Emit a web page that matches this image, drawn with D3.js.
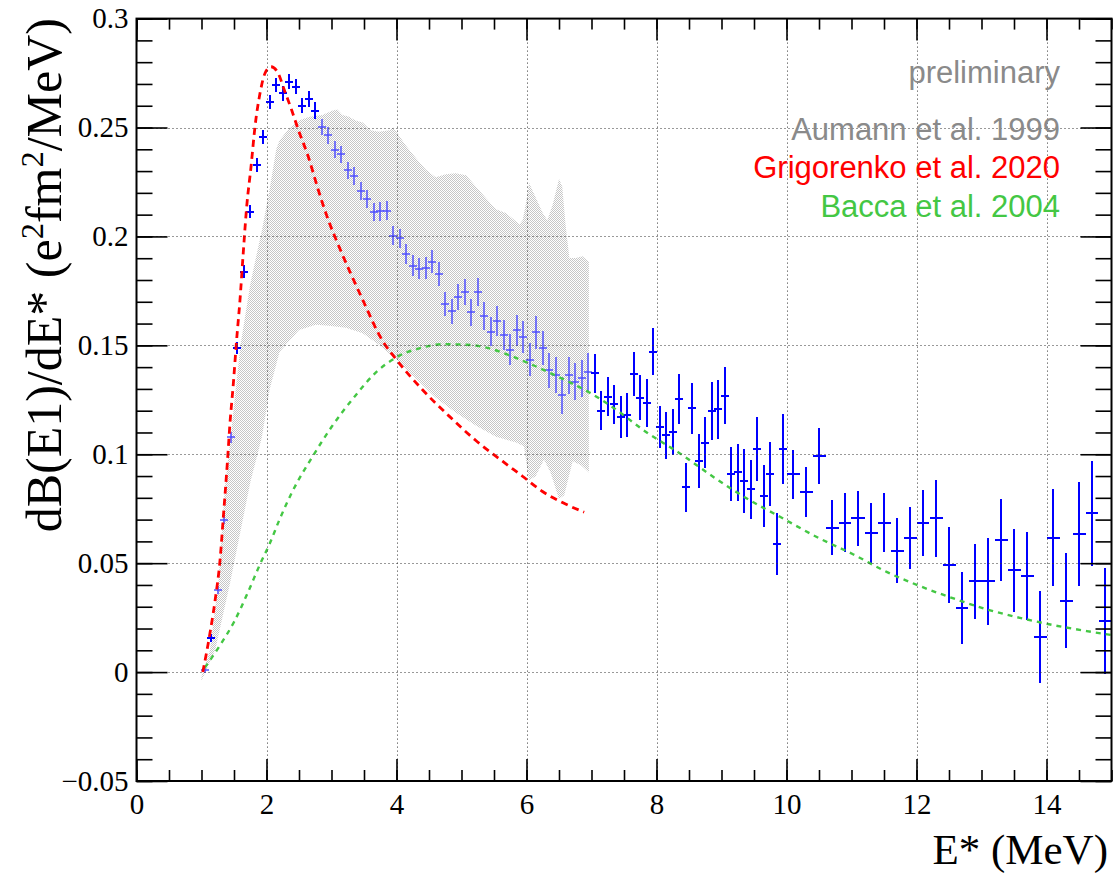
<!DOCTYPE html>
<html>
<head>
<meta charset="utf-8">
<script src="https://cdn.jsdelivr.net/npm/d3@7"></script>
<style>
  html, body { margin: 0; padding: 0; background: #fff; }
  svg { display: block; }
  .tick text { font-family: 'Liberation Serif', 'Times New Roman', serif; font-size: 29px; fill: #000; }
</style>
</head>
<body>
<svg id="chart" width="1116" height="876"></svg>
<script>
// ---- measured dB(E1)/dE* spectrum (bin centre, value, stat. error) ----
const expEnergy = [
  1.05,1.15,1.25,1.35,1.45,1.55,1.65,1.75,1.85,1.95,
  2.05,2.15,2.25,2.35,2.45,2.55,2.65,2.75,2.85,2.95,
  3.05,3.15,3.25,3.35,3.45,3.55,3.65,3.75,3.85,3.95,
  4.05,4.15,4.25,4.35,4.45,4.55,4.65,4.75,4.85,4.95,
  5.05,5.15,5.25,5.35,5.45,5.55,5.65,5.75,5.85,5.95,
  6.05,6.15,6.25,6.35,6.45,6.55,6.65,6.75,6.85,6.95,
  7.05,7.15,7.25,7.35,7.45,7.55,7.65,7.75,7.85,7.95,
  8.05,8.15,8.25,8.35,8.45,8.55,8.65,8.75,8.85,8.95,
  9.05,9.15,9.25,9.35,9.45,9.55,9.65,9.75,9.85,9.95,
  10.1,10.3,10.5,10.7,10.9,11.1,11.3,11.5,11.7,11.9,
  12.1,12.3,12.5,12.7,12.9,13.1,13.3,13.5,13.7,13.9,
  14.1,14.3,14.5,14.7,14.9
];
const expValue = [
  0.001,0.0156,0.0377,0.070,0.1077,0.1486,0.1837,0.2114,0.2328,0.2456,
  0.2617,0.2695,0.2657,0.2710,0.2687,0.2601,0.2631,0.2578,0.2503,0.2464,
  0.2398,0.2377,0.2303,0.2278,0.2210,0.2172,0.2112,0.2115,0.2119,0.2004,
  0.1991,0.1918,0.1866,0.1852,0.1856,0.1884,0.1828,0.1689,0.1656,0.1720,
  0.1743,0.1651,0.1744,0.1636,0.1563,0.1612,0.1548,0.1480,0.1569,0.1538,
  0.1433,0.1560,0.1486,0.1385,0.1364,0.1270,0.1362,0.1333,0.1348,0.1377,
  0.1371,0.1200,0.1264,0.1229,0.1171,0.1180,0.1367,0.1259,0.1235,0.1471,
  0.1126,0.1087,0.1102,0.1253,0.0848,0.1211,0.0970,0.1053,0.1200,0.1206,
  0.1269,0.0908,0.0917,0.0877,0.0839,0.1024,0.0808,0.0908,0.0588,0.1024,
  0.0908,0.0828,0.0992,0.0663,0.0686,0.0706,0.0637,0.0686,0.0557,0.0614,
  0.0686,0.0706,0.0490,0.0294,0.0416,0.0416,0.0606,0.0468,0.0441,0.0161,
  0.0617,0.0328,0.0632,0.0729,0.0236
];
const expError = [
  0.0015,0.0018,0.0020,0.0022,0.0025,0.0028,0.0030,0.0030,0.0031,0.0032,
  0.0033,0.0034,0.0034,0.0035,0.0035,0.0036,0.0037,0.0037,0.0037,0.0038,
  0.0038,0.0039,0.0040,0.0040,0.0041,0.0041,0.0042,0.0042,0.0043,0.0044,
  0.0045,0.0046,0.0048,0.0049,0.0050,0.0052,0.0054,0.0056,0.0058,0.0060,
  0.0060,0.0062,0.0063,0.0064,0.0066,0.0068,0.0070,0.0070,0.0072,0.0074,
  0.0076,0.0077,0.0078,0.0080,0.0082,0.0083,0.0084,0.0086,0.0087,0.0088,
  0.0088,0.0090,0.0090,0.0090,0.0096,0.0099,0.0101,0.0104,0.0109,0.0107,
  0.0097,0.0109,0.0107,0.0115,0.0114,0.0116,0.0125,0.0117,0.0134,0.0136,
  0.0132,0.0124,0.0132,0.0145,0.0136,0.0145,0.0142,0.0146,0.0142,0.0160,
  0.0112,0.0115,0.0128,0.0125,0.0134,0.0125,0.0138,0.0135,0.0149,0.0142,
  0.0151,0.0176,0.0174,0.0165,0.0174,0.0200,0.0187,0.0190,0.0200,0.0210,
  0.0222,0.0218,0.0239,0.0241,0.0243
];
// bins are 0.1 MeV wide up to 10 MeV and 0.2 MeV wide above
const binHalfWidthFine = 0.05;
const binHalfWidthCoarse = 0.1;
const coarseBinsFrom = 10.0;

// ---- Aumann et al. 1999: uncertainty band (upper and lower edge) ----
const aumannUpperE = [1.0,1.13,1.26,1.36,1.43,1.6,1.75,1.85,1.93,2.05,2.15,2.2,2.35,2.5,2.66,2.86,3.02,3.09,3.17,3.27,3.37,3.48,3.6,3.73,3.89,3.95,4.02,4.14,4.3,4.45,4.6,4.76,4.91,5.07,5.22,5.37,5.53,5.68,5.89,5.94,5.99,6.04,6.09,6.25,6.32,6.4,6.5,6.55,6.6,6.66,6.76,6.86,6.96];
const aumannUpper  = [-0.002,0.010,0.041,0.085,0.103,0.150,0.178,0.192,0.203,0.222,0.240,0.244,0.2497,0.2532,0.2549,0.2557,0.2578,0.2583,0.2557,0.2549,0.2532,0.2523,0.2488,0.2480,0.2488,0.2500,0.2471,0.2419,0.2359,0.2307,0.2272,0.2285,0.2290,0.2281,0.2229,0.2177,0.2125,0.2108,0.2056,0.2074,0.2150,0.2246,0.2212,0.2108,0.2074,0.2143,0.2264,0.2229,0.2056,0.1901,0.1901,0.1909,0.1884];
const aumannLowerE = [1.0,1.21,1.44,1.75,1.93,2.05,2.2,2.5,2.76,2.96,3.22,3.48,3.73,4.0,4.3,4.6,4.91,5.22,5.53,5.84,5.96,6.04,6.14,6.27,6.37,6.5,6.58,6.71,6.84,6.96];
const aumannLower  = [-0.004,0.010,0.041,0.087,0.108,0.130,0.147,0.157,0.1595,0.159,0.1581,0.1555,0.1503,0.1434,0.1348,0.1261,0.1192,0.1132,0.1080,0.1054,0.1037,0.0881,0.0899,0.0976,0.0916,0.0795,0.0812,0.0968,0.0950,0.0916];

// ---- Grigorenko et al. 2020 ----
const grigorenkoE = [1.02,1.13,1.21,1.285,1.336,1.397,1.438,1.49,1.54,1.592,1.64,1.695,1.762,1.823,1.9,1.977,2.07,2.18,2.274,2.387,2.49,2.643,2.797,2.951,3.105,3.477,3.785,4.0,4.4,4.81,5.221,5.631,5.938,6.246,6.554,6.887];
const grigorenko  = [0.000,0.0178,0.0331,0.0514,0.0713,0.0958,0.1142,0.1325,0.1524,0.1708,0.1915,0.2136,0.232,0.2504,0.2657,0.2749,0.2779,0.2749,0.2672,0.258,0.2489,0.2366,0.2213,0.2075,0.1961,0.1711,0.1521,0.1434,0.1296,0.1175,0.1063,0.0968,0.0899,0.0829,0.0778,0.0734];

// ---- Bacca et al. 2004 ----
const baccaE = [1.05,1.3,1.5,1.72,1.9,2.05,2.2,2.4,2.73,3.0,3.37,3.68,4.0,4.4,4.7,5.07,5.43,5.73,6.04,6.35,6.66,6.96,7.33,7.85,8.36,8.87,9.39,9.9,10.5,11.03,11.54,12.05,12.57,13.08,13.59,14.1,14.62,15.0];
const bacca  = [0.002,0.013,0.023,0.037,0.0495,0.059,0.070,0.083,0.100,0.1125,0.127,0.1375,0.1445,0.149,0.1505,0.1503,0.1486,0.1455,0.1417,0.1375,0.1331,0.1285,0.1215,0.110,0.1004,0.0897,0.0797,0.0713,0.0615,0.0540,0.0460,0.0395,0.0338,0.0288,0.0249,0.0216,0.0188,0.017];

// ---- axes ----
const xDomain = [0, 15];
const yDomain = [-0.05, 0.3];
const xTickValues = [0, 2, 4, 6, 8, 10, 12, 14];
const xTickLabels = ["0", "2", "4", "6", "8", "10", "12", "14"];
const yTickValues = [-0.05, 0, 0.05, 0.1, 0.15, 0.2, 0.25, 0.3];
const yTickLabels = ["\u22120.05", "0", "0.05", "0.1", "0.15", "0.2", "0.25", "0.3"];
const xMinorStep = 0.5;
const yMinorStep = 0.01;

const legendLines = [
  { text: "preliminary",            color: "#8a8a8a" },
  { text: "Aumann et al. 1999",     color: "#8a8a8a" },
  { text: "Grigorenko et al. 2020", color: "#ff0000" },
  { text: "Bacca et al. 2004",      color: "#44c744" }
];

// ---------------------------------------------------------------------------
const svg = d3.select("#chart");
const frame = { left: 136.5, right: 1111.5, top: 18.6, bottom: 781 };

const x = d3.scaleLinear().domain(xDomain).range([frame.left, frame.right]);
const y = d3.scaleLinear().domain(yDomain).range([frame.bottom, frame.top]);

svg.append("rect").attr("width", 1116).attr("height", 876).attr("fill", "#fff");

// fine checkerboard fill used for the band
const defs = svg.append("defs");
const pat = defs.append("pattern")
  .attr("id", "checker").attr("width", 2).attr("height", 2)
  .attr("patternUnits", "userSpaceOnUse");
pat.append("rect").attr("x", 0).attr("y", 0).attr("width", 1).attr("height", 1)
  .attr("fill", "#c6c6c6").attr("shape-rendering", "crispEdges");
pat.append("rect").attr("x", 1).attr("y", 1).attr("width", 1).attr("height", 1)
  .attr("fill", "#c6c6c6").attr("shape-rendering", "crispEdges");

defs.append("clipPath").attr("id", "plotClip")
  .append("rect")
  .attr("x", frame.left).attr("y", frame.top)
  .attr("width", frame.right - frame.left).attr("height", frame.bottom - frame.top);

const plot = svg.append("g").attr("clip-path", "url(#plotClip)");

// Aumann band
const bandPts = aumannUpperE.map((e, i) => [e, aumannUpper[i]])
  .concat(aumannLowerE.map((e, i) => [e, aumannLower[i]]).reverse());
plot.append("path")
  .attr("d", d3.line().x(d => x(d[0])).y(d => y(d[1]))(bandPts) + "Z")
  .attr("fill", "url(#checker)").attr("stroke", "none");

// band edges, linearly interpolated, to know which points sit inside it
function edgeAt(es, vs, e) {
  const i = Math.max(1, Math.min(es.length - 1, d3.bisectLeft(es, e)));
  const t = (e - es[i - 1]) / (es[i] - es[i - 1]);
  return vs[i - 1] + t * (vs[i] - vs[i - 1]);
}
function insideBand(e, v) {
  if (e < aumannUpperE[0] || e > aumannUpperE[aumannUpperE.length - 1]) return false;
  return v <= edgeAt(aumannUpperE, aumannUpper, e) && v >= edgeAt(aumannLowerE, aumannLower, e);
}

// data points with error crosses (snapped to whole pixels so they stay crisp);
// crosses lying under the band are drawn paler
const points = expEnergy.map((e, i) => ({
  e, v: expValue[i], err: expError[i],
  hw: e > coarseBinsFrom ? binHalfWidthCoarse : binHalfWidthFine,
  covered: insideBand(e, expValue[i])
}));
const px = v => Math.round(v);
const pts = plot.append("g").attr("stroke-width", 2).attr("shape-rendering", "crispEdges");
const cross = pts.selectAll("g").data(points).join("g")
  .attr("stroke", d => d.covered ? "#4a4aff" : "#0000ff")
  .attr("stroke-opacity", d => d.covered ? 0.72 : 1);
cross.append("line")
  .attr("x1", d => px(x(d.e))).attr("x2", d => px(x(d.e)))
  .attr("y1", d => px(y(d.v + d.err))).attr("y2", d => px(y(d.v - d.err)));
cross.append("line")
  .attr("x1", d => px(Math.min(x(d.e - d.hw), x(d.e) - 4)))
  .attr("x2", d => px(Math.max(x(d.e + d.hw), x(d.e) + 4)))
  .attr("y1", d => px(y(d.v))).attr("y2", d => px(y(d.v)));

// theory curves
const smooth = d3.line().x(d => x(d[0])).y(d => y(d[1])).curve(d3.curveMonotoneX);
plot.append("path")
  .attr("d", smooth(baccaE.map((e, i) => [e, bacca[i]])))
  .attr("fill", "none").attr("stroke", "#44c744").attr("stroke-width", 2.4)
  .attr("stroke-dasharray", "5,5");
plot.append("path")
  .attr("d", smooth(grigorenkoE.map((e, i) => [e, grigorenko[i]])))
  .attr("fill", "none").attr("stroke", "#ff0000").attr("stroke-width", 2.8)
  .attr("stroke-dasharray", "7,5");

// dotted grid at the major ticks
const grid = svg.append("g").attr("stroke", "#333").attr("stroke-width", 1)
  .attr("stroke-dasharray", "1,3");
grid.selectAll("line.gx").data(xTickValues.filter(v => v > xDomain[0] && v < xDomain[1]))
  .join("line").attr("class", "gx")
  .attr("x1", d => Math.round(x(d)) + 0.5).attr("x2", d => Math.round(x(d)) + 0.5)
  .attr("y1", frame.top).attr("y2", frame.bottom);
grid.selectAll("line.gy").data(yTickValues.filter(v => v > yDomain[0] + 1e-9 && v < yDomain[1] - 1e-9))
  .join("line").attr("class", "gy")
  .attr("x1", frame.left).attr("x2", frame.right)
  .attr("y1", d => Math.round(y(d)) + 0.5).attr("y2", d => Math.round(y(d)) + 0.5);

// axes: ticks point into the frame on all four sides
const xMinor = d3.range(0, Math.round((xDomain[1] - xDomain[0]) / xMinorStep) + 1).map(i => xDomain[0] + i * xMinorStep);
const yMinor = d3.range(0, Math.round((yDomain[1] - yDomain[0]) / yMinorStep) + 1).map(i => +(yDomain[0] + i * yMinorStep).toFixed(4));

function styleAxis(g) {
  g.attr("font-family", "'Liberation Serif', 'Times New Roman', serif").attr("font-size", 29);
  g.select(".domain").remove();
  g.selectAll(".tick line").attr("stroke", "#000").attr("stroke-width", 1.6);
  g.selectAll(".tick text").attr("fill", "#000");
}
const axesG = svg.append("g");
axesG.append("g").attr("transform", `translate(0,${frame.bottom})`)
  .call(d3.axisBottom(x).tickValues(xMinor).tickSize(-11).tickFormat("")).call(styleAxis);
axesG.append("g").attr("transform", `translate(0,${frame.bottom})`)
  .call(d3.axisBottom(x).tickValues(xTickValues).tickSize(-22).tickPadding(12)
    .tickFormat((d, i) => xTickLabels[i])).call(styleAxis);
axesG.append("g").attr("transform", `translate(0,${frame.top})`)
  .call(d3.axisTop(x).tickValues(xMinor).tickSize(-11).tickFormat("")).call(styleAxis);
axesG.append("g").attr("transform", `translate(0,${frame.top})`)
  .call(d3.axisTop(x).tickValues(xTickValues).tickSize(-22).tickFormat("")).call(styleAxis);
axesG.append("g").attr("transform", `translate(${frame.left},0)`)
  .call(d3.axisLeft(y).tickValues(yMinor).tickSize(-16).tickFormat("")).call(styleAxis);
axesG.append("g").attr("transform", `translate(${frame.left},0)`)
  .call(d3.axisLeft(y).tickValues(yTickValues).tickSize(-31).tickPadding(8)
    .tickFormat((d, i) => yTickLabels[i])).call(styleAxis);
axesG.append("g").attr("transform", `translate(${frame.right},0)`)
  .call(d3.axisRight(y).tickValues(yMinor).tickSize(-16).tickFormat("")).call(styleAxis);
axesG.append("g").attr("transform", `translate(${frame.right},0)`)
  .call(d3.axisRight(y).tickValues(yTickValues).tickSize(-31).tickFormat("")).call(styleAxis);

// frame
svg.append("rect")
  .attr("x", frame.left).attr("y", frame.top)
  .attr("width", frame.right - frame.left).attr("height", frame.bottom - frame.top)
  .attr("fill", "none").attr("stroke", "#000").attr("stroke-width", 2);

// axis titles
const serif = "'Liberation Serif', 'Times New Roman', serif";
svg.append("text")
  .attr("x", 1108).attr("y", 864).attr("text-anchor", "end")
  .attr("font-family", serif).attr("font-size", 43).attr("fill", "#000")
  .text("E* (MeV)");

const yTitle = svg.append("text")
  .attr("transform", "translate(61,18) rotate(-90)")
  .attr("text-anchor", "end")
  .attr("font-family", serif).attr("font-size", 50).attr("fill", "#000");
yTitle.append("tspan").text("dB(E1)/dE* (e");
yTitle.append("tspan").attr("baseline-shift", "super").attr("font-size", "65%").text("2");
yTitle.append("tspan").text("fm");
yTitle.append("tspan").attr("baseline-shift", "super").attr("font-size", "65%").text("2");
yTitle.append("tspan").text("/MeV)");

// legend text block
const legendBaselines = [83, 140, 178, 217];
svg.append("g").selectAll("text").data(legendLines).join("text")
  .attr("x", 1060).attr("y", (d, i) => legendBaselines[i])
  .attr("text-anchor", "end")
  .attr("font-family", "'Liberation Sans', Arial, sans-serif").attr("font-size", 31)
  .attr("fill", d => d.color)
  .text(d => d.text);
</script>
</body>
</html>
